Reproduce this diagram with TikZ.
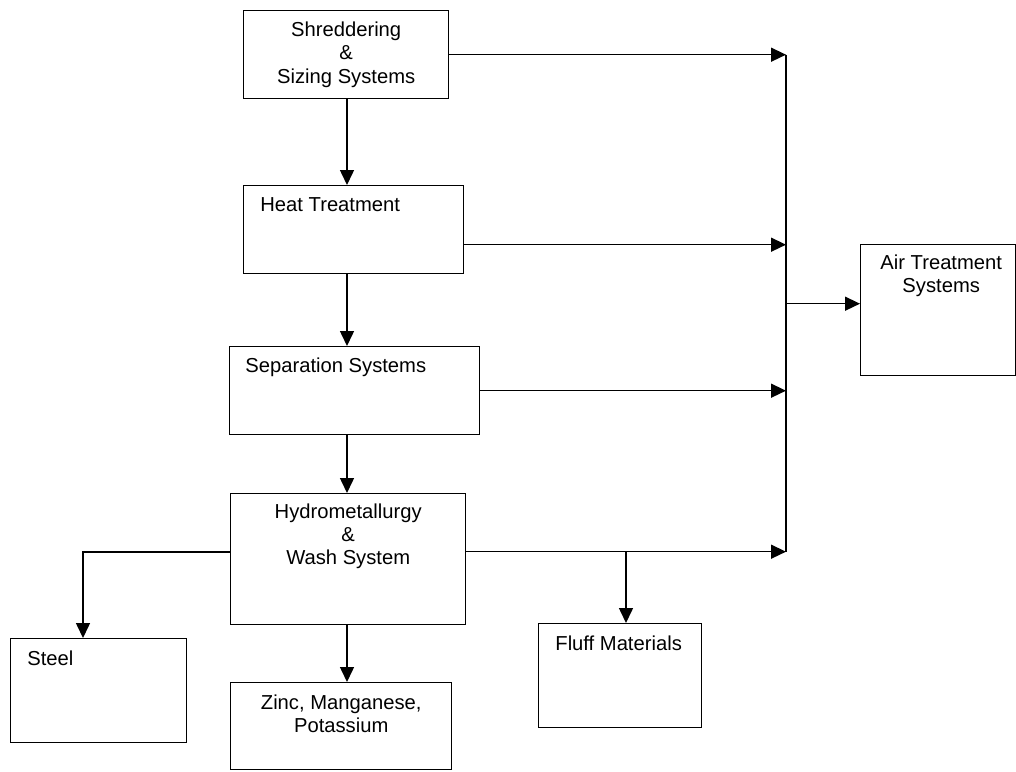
\documentclass[tikz,border=0pt]{standalone}
\usepackage{fontspec}
\setmainfont{Liberation Sans}
\usetikzlibrary{arrows.meta}
\begin{document}
\begin{tikzpicture}[x=0.5pt,y=-0.5pt,
  box/.style={draw,line width=0.7pt,rectangle,inner sep=0pt,anchor=north west},
  txt/.style={inner sep=0pt,align=center,font=\fontsize{10.1}{11.6}\selectfont},
  ln/.style={line width=0.75pt},
  arr/.style={line width=0.75pt,-{Triangle[length=7.5pt,width=7pt]}}]
\useasboundingbox (0,0) rectangle (1016,771);
% boxes
\node[box,minimum width=102.5pt,minimum height=44pt] (b1) at (243,10) {};
\node[box,minimum width=110pt,minimum height=44pt] (b2) at (243,185) {};
\node[box,minimum width=125pt,minimum height=44pt] (b3) at (229,346) {};
\node[box,minimum width=117.5pt,minimum height=65.5pt] (b4) at (230,493) {};
\node[box,minimum width=88pt,minimum height=52pt] (steel) at (10,638) {};
\node[box,minimum width=110.5pt,minimum height=43.5pt] (zinc) at (230,682) {};
\node[box,minimum width=81.5pt,minimum height=52pt] (fluff) at (538,623) {};
\node[box,minimum width=77.5pt,minimum height=65.5pt] (air) at (860,244) {};
% texts
\node[txt] (t1) at (b1.center) {Shreddering\\\&\\Sizing Systems};
\node[txt,anchor=west] (t2) at ([shift={(17,20)}]b2.north west) {Heat Treatment};
\node[txt,anchor=west] (t3) at ([shift={(16,21)}]b3.north west) {Separation Systems};
\node[txt] (t4) at ([shift={(0,43)}]b4.north) {Hydrometallurgy\\\&\\Wash System};
\node[txt,anchor=west] (t5) at ([shift={(17,20)}]steel.north west) {Steel};
\node[txt] (t6) at ([shift={(0,32)}]zinc.north) {Zinc, Manganese,\\Potassium};
\node[txt,anchor=west] (t7) at ([shift={(17,20)}]fluff.north west) {Fluff Materials};
\node[txt] (t8) at ([shift={(3,32)}]air.north) {Air Treatment\\Systems};
% helper coordinates
\coordinate (spine) at (347,0);
\coordinate (bus) at (786,0);
\coordinate (h1) at ([yshift=-7.5pt]b2.east);
\coordinate (h4) at ([yshift=3.75pt]b4.east);
\coordinate (a0) at ([yshift=3.25pt]air.west);
\coordinate (s) at (83,552);
\coordinate (f) at (626,551);
% vertical flow
\draw[arr] (spine |- b1.south) -- (spine |- b2.north);
\draw[arr] (spine |- b2.south) -- (spine |- b3.north);
\draw[arr] (spine |- b3.south) -- (spine |- b4.north);
\draw[arr] (spine |- b4.south) -- (spine |- zinc.north);
% to bus
\draw[arr] (b1.east) -- (bus |- b1.east);
\draw[arr] (h1) -- (bus |- h1);
\draw[arr] (b3.east) -- (bus |- b3.east);
\draw[arr] (h4) -- (bus |- h4);
\draw[ln] (bus |- b1.east) -- (bus |- h4);
\draw[arr] (bus |- a0) -- (a0);
% outputs
\draw[arr] (b4.west |- s) -- (s) -- (s |- steel.north);
\draw[arr] (f) -- (f |- fluff.north);
\end{tikzpicture}
\end{document}
